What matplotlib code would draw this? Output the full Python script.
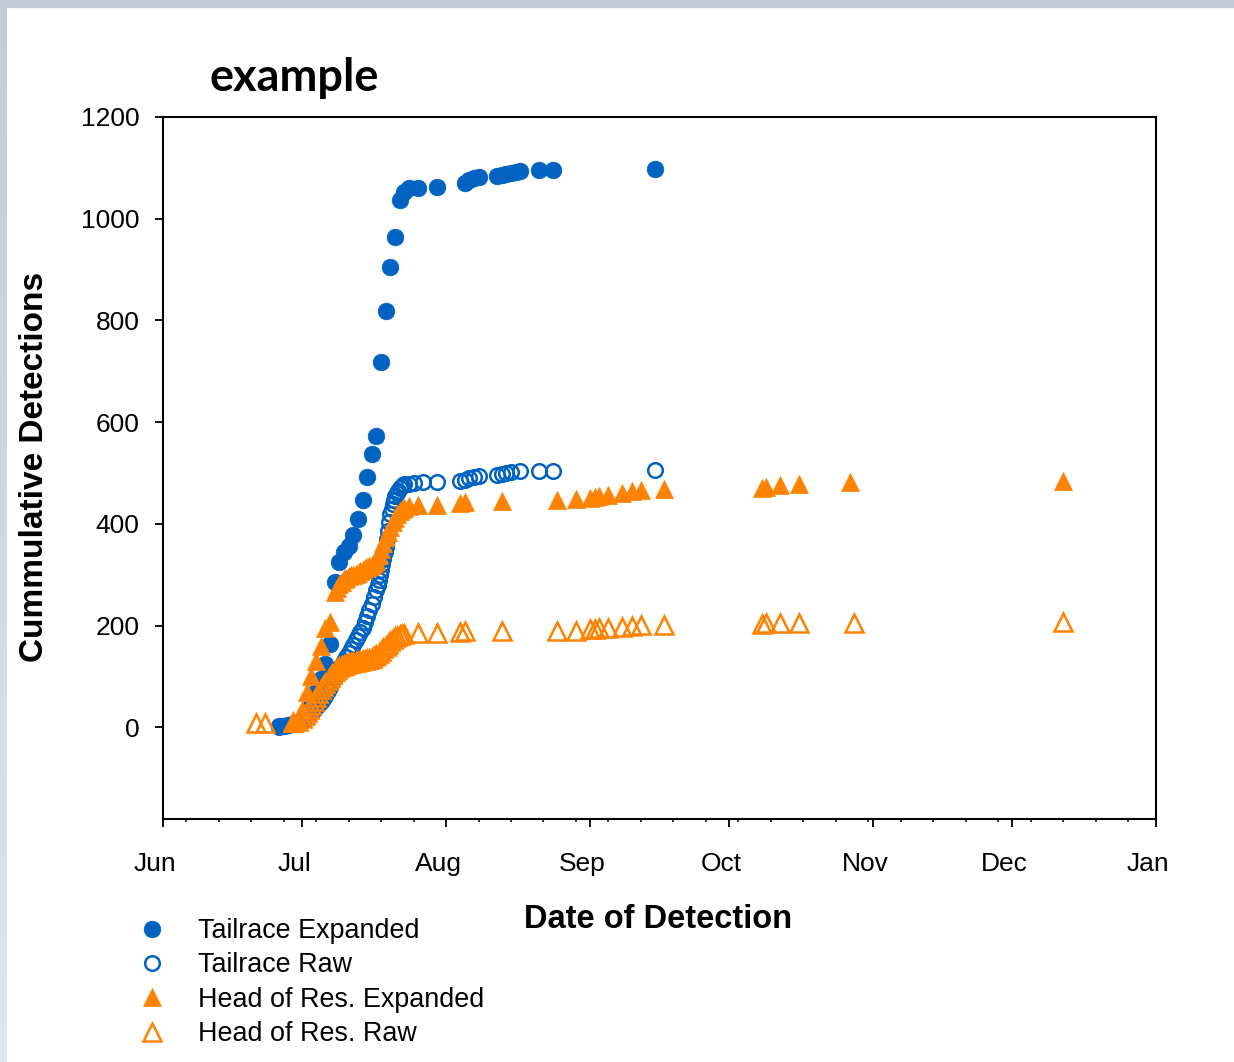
import numpy as np
import pandas as pd
import matplotlib
matplotlib.use("Agg")
import matplotlib.pyplot as plt
import matplotlib.dates as mdates
import matplotlib.transforms as mtransforms
from matplotlib.patches import Rectangle

plt.rcParams['font.family'] = ['Liberation Sans', 'DejaVu Sans']

# --- data (month-day [hour] of detection, cumulative counts) ---
tail_exp_dates = ["06-26", "06-27", "06-28", "06-29", "06-30",
                  "07-01", "07-02", "07-03", "07-04", "07-05", "07-06", "07-07", "07-08",
                  "07-09", "07-10", "07-11", "07-12", "07-13", "07-14", "07-15", "07-16",
                  "07-17", "07-18", "07-19", "07-20", "07-21", "07-22", "07-23", "07-24",
                  "07-26", "07-30", "08-05", "08-06", "08-07", "08-08", "08-12", "08-13",
                  "08-14", "08-15", "08-16", "08-17", "08-21", "08-24", "09-15"]
tail_exp_vals = [2, 3, 5, 7, 9,
                 14, 22, 45, 70, 95, 125, 165, 286,
                 326, 344, 356, 379, 409, 448, 493, 538,
                 572, 718, 818, 906, 965, 1036, 1052, 1060,
                 1061, 1063, 1070, 1076, 1080, 1083, 1084, 1086,
                 1088, 1090, 1091, 1094, 1095, 1096, 1098]

tail_raw_dates = ["06-26", "06-27", "06-28", "06-29", "06-30",
                  "07-01", "07-01 12:00", "07-02", "07-02 12:00", "07-03", "07-03 12:00",
                  "07-04", "07-04 12:00", "07-05", "07-05 12:00", "07-06", "07-06 12:00",
                  "07-07", "07-07 12:00", "07-08", "07-08 12:00", "07-09", "07-09 12:00",
                  "07-10", "07-10 12:00", "07-11", "07-11 12:00", "07-12", "07-12 12:00",
                  "07-13", "07-13 12:00", "07-14", "07-14 12:00", "07-15", "07-15 12:00",
                  "07-16", "07-16 12:00",
                  "07-17", "07-17 06:00", "07-17 12:00", "07-17 18:00",
                  "07-18", "07-18 06:00", "07-18 12:00", "07-18 18:00",
                  "07-19", "07-19 06:00", "07-19 12:00", "07-19 18:00",
                  "07-20", "07-20 06:00", "07-20 12:00", "07-20 18:00",
                  "07-21", "07-21 08:00", "07-21 16:00", "07-22", "07-22 12:00", "07-23",
                  "07-24", "07-25", "07-27", "07-30", "08-04", "08-05", "08-06", "08-07",
                  "08-08", "08-12", "08-13", "08-14", "08-15", "08-17", "08-21", "08-24",
                  "09-15"]
tail_raw_vals = [1, 2, 4, 6, 8,
                 12, 16, 20, 25, 30, 35,
                 40, 45, 50, 56, 62, 71,
                 80, 90, 100, 108, 116, 123,
                 130, 138, 147, 155, 162, 171,
                 180, 188, 195, 207, 220, 231,
                 242, 256,
                 270, 280, 290, 300,
                 310, 321, 332, 344,
                 355, 370, 387, 404,
                 420, 430, 440, 448,
                 455, 460, 465, 470, 474, 478,
                 479, 480, 482, 482, 484, 487, 490, 493,
                 495, 497, 499, 501, 503, 505, 505, 505,
                 507]

head_exp_dates = ["06-29", "06-30",
                  "07-01", "07-02", "07-03", "07-04", "07-05", "07-06", "07-07",
                  "07-08", "07-08 12:00", "07-09", "07-09 12:00", "07-10", "07-10 12:00",
                  "07-11", "07-11 12:00", "07-12", "07-12 12:00", "07-13", "07-13 12:00",
                  "07-14", "07-14 12:00", "07-15", "07-15 12:00", "07-16", "07-16 12:00",
                  "07-17", "07-17 12:00", "07-18", "07-18 12:00", "07-19", "07-19 12:00",
                  "07-20", "07-20 12:00", "07-21", "07-21 12:00", "07-22", "07-22 12:00",
                  "07-23", "07-24",
                  "07-26", "07-30", "08-04", "08-05", "08-13", "08-25", "08-29", "09-01",
                  "09-02", "09-03", "09-05", "09-08", "09-10", "09-12", "09-17", "10-08",
                  "10-09", "10-12", "10-16", "10-27", "12-12"]
head_exp_vals = [8, 15,
                 35, 69, 101, 130, 160, 196, 207,
                 266, 274, 281, 286, 291, 294,
                 297, 299, 300, 302, 304, 307,
                 310, 313, 316, 318, 320, 323,
                 327, 338, 350, 362, 375, 385,
                 395, 404, 412, 419, 425, 429,
                 432, 435,
                 438, 438, 441, 443, 446, 448, 450, 452,
                 453, 455, 457, 461, 464, 466, 468, 470,
                 472, 476, 478, 482, 484]

head_raw_dates = ["06-21", "06-23", "06-29", "06-30",
                  "07-01", "07-01 12:00", "07-02", "07-02 12:00", "07-03", "07-03 12:00",
                  "07-04", "07-04 12:00", "07-05", "07-05 12:00", "07-06", "07-06 12:00",
                  "07-07", "07-07 12:00", "07-08", "07-08 12:00", "07-09", "07-09 12:00",
                  "07-10", "07-10 12:00", "07-11", "07-11 12:00", "07-12", "07-12 12:00",
                  "07-13", "07-13 12:00", "07-14", "07-14 12:00", "07-15", "07-15 12:00",
                  "07-16", "07-16 12:00", "07-17", "07-17 12:00", "07-18", "07-18 12:00",
                  "07-19", "07-19 12:00", "07-20", "07-20 12:00", "07-21", "07-21 12:00",
                  "07-22", "07-22 12:00", "07-23",
                  "07-26", "07-30", "08-04", "08-05", "08-13", "08-25", "08-29", "09-01",
                  "09-02", "09-03", "09-05", "09-08", "09-10", "09-12", "09-17", "10-08",
                  "10-09", "10-12", "10-16", "10-28", "12-12"]
head_raw_vals = [8, 9, 10, 12,
                 18, 24, 30, 37, 45, 52,
                 60, 68, 75, 82, 88, 94,
                 100, 105, 110, 114, 118, 120,
                 122, 124, 126, 127, 128, 129,
                 130, 131, 132, 133, 134, 135,
                 137, 140, 143, 147, 151, 156,
                 161, 165, 169, 173, 177, 179,
                 181, 183, 184,
                 185, 186, 187, 189, 189, 190, 190, 193,
                 194, 195, 196, 198, 199, 201, 202, 203,
                 205, 205, 206, 206, 208]

series_labels = ["Tailrace Expanded", "Tailrace Raw",
                 "Head of Res. Expanded", "Head of Res. Raw"]

YEAR = "2015-"
BLUE = "#0062c1"
ORANGE = "#ff8200"


def to_dates(md):
    return pd.to_datetime([YEAR + d for d in md], format="mixed")


W, H = 1234, 1062
fig = plt.figure(figsize=(W / 100, H / 100), dpi=100)

# slide-style border strips
fig.patches.append(Rectangle((0, 1 - 7 / H), 1, 7 / H, transform=fig.transFigure,
                             color="#c3cbdb", zorder=0))
band = fig.add_axes([0, 0, 7 / W, 1 - 7 / H])
band.imshow(np.linspace(0, 1, 100).reshape(-1, 1), aspect="auto",
            cmap=matplotlib.colors.LinearSegmentedColormap.from_list("b", ["#c3cbdb", "#dde5f5"]))
band.axis("off")

ax = fig.add_axes([163 / W, 1 - 819 / H, 993 / W, 702 / H])

ax.plot(to_dates(tail_exp_dates), tail_exp_vals, ls="none", marker="o", ms=12,
        mfc=BLUE, mec=BLUE, mew=0.5, label=series_labels[0])
ax.plot(to_dates(tail_raw_dates), tail_raw_vals, ls="none", marker="o", ms=10.5,
        mfc="none", mec=BLUE, mew=1.8, label=series_labels[1])
ax.plot(to_dates(head_exp_dates), head_exp_vals, ls="none", marker="^", ms=13.5,
        mfc=ORANGE, mec=ORANGE, mew=0.5, label=series_labels[2])
ax.plot(to_dates(head_raw_dates), head_raw_vals, ls="none", marker="^", ms=12.5,
        mfc="none", mec=ORANGE, mew=1.8, label=series_labels[3])

ax.set_xlim(pd.Timestamp("2015-06-01"), pd.Timestamp("2016-01-01"))
ax.set_ylim(-180, 1200)
ax.set_yticks([0, 200, 400, 600, 800, 1000, 1200])

ax.xaxis.set_major_locator(mdates.MonthLocator())
ax.xaxis.set_major_formatter(mdates.DateFormatter("%b"))
ax.xaxis.set_minor_locator(mdates.WeekdayLocator(byweekday=mdates.SA))

for s in ax.spines.values():
    s.set_linewidth(1.5)
ax.tick_params(axis="both", which="major", direction="out", length=6, width=1.3,
               labelsize=19)
ax.tick_params(axis="x", which="major", pad=17.5)
ax.tick_params(axis="y", which="major", pad=11)
ax.tick_params(axis="x", which="minor", direction="out", length=2.5, width=1.1)

offset = mtransforms.ScaledTranslation(-8 / 100, 0, fig.dpi_scale_trans)
for lbl in ax.get_xticklabels():
    lbl.set_transform(lbl.get_transform() + offset)

fig.text(658 / W, 1 - 920 / H, "Date of Detection", ha="center", va="center",
         fontsize=23.5, fontweight="bold")
fig.text(35 / W, 1 - 467 / H, "Cummulative Detections", ha="center", va="center",
         rotation=90, fontsize=24, fontweight="bold")
fig.text(210 / W, 1 - 78 / H, "example", ha="left", va="center",
         fontsize=32.5, fontweight="bold", family=["Lato", "DejaVu Sans"])

handles, labels = ax.get_legend_handles_labels()
fig.legend(handles, labels, loc="upper left", bbox_to_anchor=(139 / W, 1 - 918 / H),
           frameon=False, fontsize=19.4, handlelength=1.0, handletextpad=1.19,
           labelspacing=0.31, borderpad=0, borderaxespad=0, numpoints=1)

fig.savefig("out.png", dpi=100)
